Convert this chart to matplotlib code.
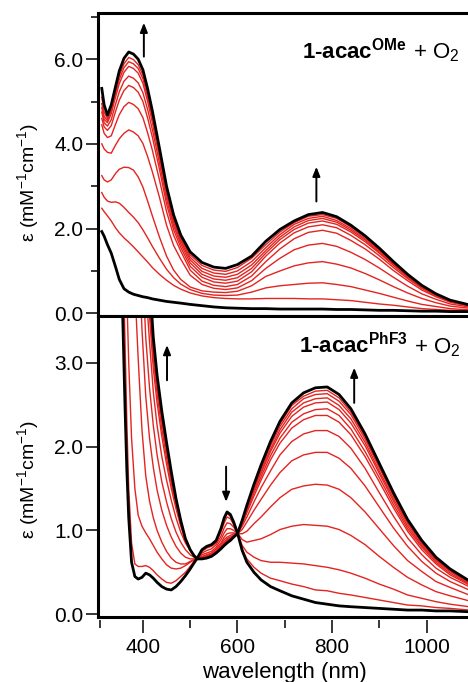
import matplotlib
matplotlib.use("Agg")
import matplotlib.pyplot as plt
from matplotlib.ticker import FixedLocator, FormatStrFormatter

plt.rcParams['font.family'] = ['Liberation Sans', 'DejaVu Sans']
plt.rcParams['mathtext.fontset'] = 'custom'
plt.rcParams['mathtext.rm'] = 'Liberation Sans'
plt.rcParams['mathtext.it'] = 'Liberation Sans:italic'
plt.rcParams['mathtext.bf'] = 'Liberation Sans:bold'

# ---------------- data: top panel (1-acac^OMe + O2) ----------------
wl_top = [313, 318, 325, 333, 342, 350, 360, 370, 380, 390, 400, 410, 420, 435, 450, 465, 480, 500, 525, 550,
          575, 600, 630, 660, 690, 720, 750, 780, 810, 840, 870, 900, 930, 960, 990, 1020, 1050, 1090]

top_initial = [1.93, 1.82, 1.62, 1.42, 1.10, 0.80, 0.58, 0.50, 0.45, 0.42, 0.39, 0.37, 0.34, 0.31, 0.28, 0.26, 0.24, 0.21, 0.18, 0.15,
               0.13, 0.12, 0.11, 0.11, 0.10, 0.10, 0.10, 0.10, 0.09, 0.09, 0.08, 0.07, 0.07, 0.06, 0.05, 0.05, 0.04, 0.04]
top_final = [5.31, 4.92, 4.68, 4.92, 5.35, 5.72, 6.02, 6.17, 6.12, 6.00, 5.75, 5.30, 4.78, 3.90, 3.00, 2.32, 1.85, 1.45, 1.20, 1.09,
             1.06, 1.15, 1.35, 1.70, 1.98, 2.18, 2.33, 2.38, 2.28, 2.08, 1.83, 1.54, 1.22, 0.92, 0.66, 0.46, 0.31, 0.20]

top_r1 = [5.10, 4.75, 4.60, 4.84, 5.25, 5.61, 5.89, 6.04, 5.99, 5.87, 5.63, 5.19, 4.68, 3.82, 2.92, 2.25, 1.79, 1.38, 1.13, 1.02,
          0.99, 1.08, 1.30, 1.62, 1.92, 2.14, 2.29, 2.33, 2.24, 2.04, 1.80, 1.51, 1.20, 0.90, 0.65, 0.45, 0.30, 0.20]
top_r2 = [4.95, 4.65, 4.55, 4.78, 5.18, 5.52, 5.80, 5.94, 5.89, 5.78, 5.54, 5.10, 4.60, 3.76, 2.87, 2.20, 1.75, 1.32, 1.06, 0.95,
          0.92, 1.00, 1.22, 1.55, 1.86, 2.10, 2.24, 2.29, 2.19, 2.00, 1.76, 1.48, 1.17, 0.89, 0.64, 0.44, 0.30, 0.19]
top_r3 = [4.85, 4.58, 4.50, 4.71, 5.10, 5.42, 5.69, 5.83, 5.78, 5.67, 5.43, 5.00, 4.51, 3.68, 2.80, 2.14, 1.70, 1.26, 0.99, 0.88,
          0.85, 0.92, 1.14, 1.48, 1.80, 2.04, 2.19, 2.24, 2.15, 1.96, 1.73, 1.45, 1.15, 0.87, 0.62, 0.44, 0.29, 0.19]
top_r4 = [4.75, 4.50, 4.42, 4.57, 4.93, 5.23, 5.48, 5.60, 5.55, 5.44, 5.21, 4.81, 4.34, 3.55, 2.70, 2.06, 1.64, 1.19, 0.92, 0.81,
          0.78, 0.84, 1.06, 1.42, 1.74, 1.98, 2.13, 2.18, 2.10, 1.92, 1.69, 1.42, 1.13, 0.85, 0.61, 0.43, 0.29, 0.19]
top_r5 = [4.60, 4.40, 4.32, 4.43, 4.76, 5.03, 5.26, 5.38, 5.33, 5.22, 5.00, 4.61, 4.16, 3.40, 2.58, 1.97, 1.56, 1.11, 0.85, 0.74,
          0.71, 0.76, 0.98, 1.35, 1.66, 1.90, 2.04, 2.09, 2.02, 1.84, 1.62, 1.36, 1.08, 0.82, 0.59, 0.41, 0.28, 0.18]
top_r6 = [4.45, 4.25, 4.15, 4.19, 4.46, 4.69, 4.88, 4.98, 4.93, 4.83, 4.62, 4.26, 3.85, 3.15, 2.40, 1.84, 1.47, 1.02, 0.76, 0.66,
          0.63, 0.68, 0.88, 1.22, 1.52, 1.76, 1.91, 1.96, 1.89, 1.72, 1.52, 1.28, 1.01, 0.77, 0.55, 0.39, 0.26, 0.17]
top_r7 = [4.00, 3.88, 3.80, 3.78, 3.97, 4.12, 4.25, 4.33, 4.28, 4.19, 4.01, 3.70, 3.34, 2.74, 2.08, 1.60, 1.28, 0.90, 0.68, 0.59,
          0.56, 0.60, 0.77, 1.06, 1.30, 1.50, 1.61, 1.65, 1.58, 1.44, 1.27, 1.07, 0.85, 0.64, 0.46, 0.33, 0.22, 0.15]
top_r8 = [3.25, 3.15, 3.10, 3.15, 3.30, 3.40, 3.45, 3.44, 3.38, 3.22, 2.98, 2.65, 2.30, 1.80, 1.35, 1.02, 0.80, 0.62, 0.53, 0.50,
          0.49, 0.52, 0.65, 0.87, 1.00, 1.12, 1.19, 1.22, 1.16, 1.07, 0.94, 0.79, 0.63, 0.48, 0.35, 0.25, 0.17, 0.12]
top_r9 = [2.85, 2.74, 2.65, 2.62, 2.63, 2.60, 2.50, 2.38, 2.27, 2.14, 1.97, 1.78, 1.58, 1.30, 1.04, 0.84, 0.69, 0.56, 0.47, 0.43,
          0.42, 0.43, 0.50, 0.60, 0.65, 0.68, 0.71, 0.72, 0.68, 0.63, 0.55, 0.47, 0.38, 0.29, 0.21, 0.16, 0.11, 0.08]
top_r10 = [2.48, 2.40, 2.30, 2.18, 2.02, 1.90, 1.78, 1.68, 1.57, 1.45, 1.33, 1.21, 1.08, 0.92, 0.78, 0.66, 0.57, 0.48, 0.41, 0.37,
           0.35, 0.34, 0.34, 0.35, 0.35, 0.35, 0.34, 0.34, 0.32, 0.30, 0.26, 0.22, 0.19, 0.15, 0.11, 0.09, 0.07, 0.06]
top_reds = [top_r1, top_r2, top_r3, top_r4, top_r5, top_r6, top_r7, top_r8, top_r9, top_r10]

# ---------------- data: bottom panel (1-acac^PhF3 + O2) ----------------
wl_bot = [352, 358, 362, 366, 370, 376, 383, 390, 398, 406, 414, 422, 430, 440, 450, 460, 470, 480, 490, 500,
          508, 515, 525, 535, 545, 555, 565, 572, 578, 585, 592, 600, 610, 620, 635, 650, 670, 690, 715, 740,
          765, 790, 815, 840, 870, 900, 930, 960, 990, 1020, 1050, 1090]

bot_initial = [4.6, 3.4, 2.5, 1.72, 1.15, 0.62, 0.45, 0.42, 0.44, 0.49, 0.47, 0.43, 0.38, 0.33, 0.30, 0.29, 0.33, 0.39, 0.46, 0.54,
               0.61, 0.67, 0.77, 0.81, 0.83, 0.88, 1.02, 1.15, 1.22, 1.19, 1.10, 0.97, 0.76, 0.62, 0.50, 0.41, 0.33, 0.28, 0.22, 0.18,
               0.14, 0.12, 0.10, 0.09, 0.08, 0.07, 0.06, 0.05, 0.05, 0.04, 0.04, 0.03]
bot_final = [14.5, 14.0, 13.5, 13.0, 12.5, 11.0, 9.6, 7.8, 5.9, 4.65, 4.0, 3.3, 2.85, 2.42, 2.05, 1.70, 1.38, 1.12, 0.90, 0.77,
             0.70, 0.66, 0.66, 0.67, 0.69, 0.73, 0.78, 0.82, 0.85, 0.88, 0.92, 0.96, 1.12, 1.30, 1.55, 1.78, 2.06, 2.30, 2.52, 2.64,
             2.70, 2.71, 2.62, 2.45, 2.15, 1.80, 1.45, 1.13, 0.88, 0.68, 0.54, 0.40]

bot_q1 = [14.4, 13.9, 13.3, 12.8, 12.3, 10.8, 9.4, 7.6, 5.75, 4.55, 3.96, 3.28, 2.83, 2.40, 2.04, 1.69, 1.38, 1.12, 0.90, 0.77,
          0.70, 0.66, 0.66, 0.67, 0.69, 0.73, 0.78, 0.82, 0.86, 0.88, 0.92, 0.96, 1.11, 1.29, 1.53, 1.76, 2.03, 2.27, 2.49, 2.60,
          2.66, 2.67, 2.58, 2.41, 2.12, 1.77, 1.43, 1.11, 0.87, 0.67, 0.53, 0.39]
bot_q2 = [14.2, 13.7, 13.1, 12.6, 12.1, 10.6, 9.2, 7.4, 5.6, 4.45, 3.9, 3.24, 2.80, 2.38, 2.02, 1.68, 1.37, 1.11, 0.90, 0.77,
          0.70, 0.66, 0.66, 0.67, 0.69, 0.73, 0.79, 0.83, 0.86, 0.89, 0.93, 0.96, 1.11, 1.28, 1.52, 1.74, 2.01, 2.24, 2.45, 2.57,
          2.62, 2.63, 2.54, 2.38, 2.09, 1.75, 1.41, 1.10, 0.86, 0.66, 0.53, 0.39]
bot_q3 = [14.0, 13.4, 12.8, 12.3, 11.8, 10.4, 9.0, 7.2, 5.45, 4.35, 3.84, 3.19, 2.76, 2.34, 1.98, 1.65, 1.35, 1.10, 0.90, 0.77,
          0.70, 0.66, 0.67, 0.68, 0.70, 0.74, 0.79, 0.84, 0.87, 0.90, 0.93, 0.96, 1.10, 1.27, 1.50, 1.71, 1.97, 2.20, 2.41, 2.52,
          2.57, 2.58, 2.49, 2.33, 2.05, 1.71, 1.38, 1.08, 0.84, 0.65, 0.52, 0.38]
bot_q4 = [13.8, 13.2, 12.6, 12.0, 11.5, 10.1, 8.7, 7.0, 5.3, 4.25, 3.77, 3.13, 2.70, 2.29, 1.94, 1.61, 1.33, 1.09, 0.90, 0.77,
          0.70, 0.66, 0.67, 0.68, 0.70, 0.74, 0.80, 0.84, 0.88, 0.90, 0.93, 0.96, 1.09, 1.25, 1.48, 1.68, 1.94, 2.16, 2.36, 2.47,
          2.52, 2.53, 2.44, 2.28, 2.01, 1.68, 1.35, 1.05, 0.82, 0.64, 0.51, 0.37]
bot_q5 = [13.5, 12.9, 12.3, 11.7, 11.2, 9.8, 8.4, 6.8, 5.1, 4.1, 3.68, 3.06, 2.63, 2.21, 1.87, 1.56, 1.30, 1.07, 0.89, 0.77,
          0.70, 0.66, 0.67, 0.68, 0.70, 0.75, 0.80, 0.85, 0.89, 0.91, 0.94, 0.96, 1.08, 1.23, 1.45, 1.64, 1.89, 2.10, 2.29, 2.39,
          2.44, 2.45, 2.37, 2.21, 1.94, 1.63, 1.31, 1.02, 0.80, 0.62, 0.49, 0.36]
bot_q6 = [13.2, 12.6, 12.0, 11.4, 10.8, 9.5, 8.1, 6.6, 4.95, 3.98, 3.55, 2.93, 2.52, 2.12, 1.79, 1.50, 1.26, 1.05, 0.88, 0.77,
          0.70, 0.66, 0.67, 0.69, 0.71, 0.75, 0.81, 0.86, 0.90, 0.92, 0.94, 0.96, 1.07, 1.21, 1.41, 1.60, 1.84, 2.04, 2.22, 2.32,
          2.37, 2.37, 2.29, 2.14, 1.88, 1.58, 1.27, 0.99, 0.77, 0.60, 0.47, 0.35]
bot_q7 = [12.5, 12.0, 11.4, 10.8, 10.2, 8.9, 7.6, 6.3, 4.85, 3.9, 3.25, 2.65, 2.25, 1.88, 1.60, 1.36, 1.15, 0.98, 0.85, 0.76,
          0.69, 0.66, 0.68, 0.70, 0.72, 0.76, 0.83, 0.89, 0.92, 0.94, 0.96, 0.96, 1.05, 1.16, 1.34, 1.51, 1.71, 1.90, 2.06, 2.15,
          2.19, 2.19, 2.12, 1.98, 1.74, 1.45, 1.17, 0.91, 0.71, 0.55, 0.44, 0.33]
bot_q8 = [12.0, 11.4, 10.8, 10.2, 9.6, 8.3, 7.0, 5.5, 4.3, 3.3, 2.7, 2.25, 1.90, 1.58, 1.34, 1.14, 0.98, 0.86, 0.77, 0.71,
          0.68, 0.66, 0.69, 0.71, 0.73, 0.78, 0.85, 0.92, 0.96, 0.97, 0.97, 0.96, 1.01, 1.10, 1.24, 1.37, 1.54, 1.69, 1.83, 1.90,
          1.93, 1.93, 1.86, 1.74, 1.53, 1.28, 1.03, 0.81, 0.63, 0.49, 0.39, 0.29]
bot_q9 = [10.0, 9.5, 9.0, 8.5, 8.0, 7.0, 5.8, 4.5, 3.4, 2.6, 2.1, 1.75, 1.48, 1.24, 1.06, 0.92, 0.81, 0.73, 0.68, 0.66,
          0.66, 0.66, 0.71, 0.73, 0.75, 0.80, 0.89, 0.97, 1.02, 1.02, 1.00, 0.96, 0.96, 0.99, 1.08, 1.16, 1.28, 1.39, 1.49, 1.53,
          1.55, 1.54, 1.49, 1.39, 1.22, 1.02, 0.82, 0.64, 0.51, 0.39, 0.32, 0.23]
bot_q10 = [9.0, 8.0, 7.2, 6.5, 5.7, 4.7, 3.9, 3.05, 2.2, 1.65, 1.35, 1.15, 1.00, 0.86, 0.75, 0.67, 0.62, 0.60, 0.60, 0.63,
           0.65, 0.67, 0.73, 0.76, 0.78, 0.83, 0.93, 1.03, 1.09, 1.08, 1.04, 0.97, 0.89, 0.86, 0.88, 0.90, 0.95, 1.01, 1.05, 1.07,
           1.06, 1.05, 1.01, 0.94, 0.83, 0.69, 0.56, 0.44, 0.35, 0.27, 0.22, 0.16]
bot_q11 = [7.0, 5.6, 4.6, 3.8, 3.0, 2.1, 1.5, 1.18, 1.05, 0.97, 0.90, 0.82, 0.74, 0.66, 0.59, 0.55, 0.54, 0.55, 0.58, 0.62,
           0.65, 0.67, 0.75, 0.79, 0.81, 0.85, 0.98, 1.09, 1.16, 1.14, 1.07, 0.97, 0.82, 0.74, 0.68, 0.64, 0.62, 0.62, 0.61, 0.60,
           0.58, 0.56, 0.53, 0.49, 0.43, 0.36, 0.30, 0.23, 0.19, 0.15, 0.12, 0.09]
bot_q12 = [5.5, 4.2, 3.3, 2.3, 1.5, 0.85, 0.60, 0.57, 0.57, 0.58, 0.56, 0.52, 0.47, 0.42, 0.38, 0.37, 0.40, 0.45, 0.50, 0.57,
           0.63, 0.67, 0.76, 0.80, 0.82, 0.87, 1.01, 1.13, 1.20, 1.17, 1.09, 0.97, 0.78, 0.66, 0.56, 0.49, 0.43, 0.40, 0.36, 0.33,
           0.29, 0.28, 0.25, 0.23, 0.20, 0.17, 0.14, 0.11, 0.10, 0.08, 0.07, 0.05]
bot_reds = [bot_q1, bot_q2, bot_q3, bot_q4, bot_q5, bot_q6, bot_q7, bot_q8, bot_q9, bot_q10, bot_q11, bot_q12]

top_yticks = [0, 2, 4, 6]
top_yminor = [1, 3, 5, 7]
bot_yticks = [0, 1, 2, 3]
xticks = [400, 600, 800, 1000]
xminor = [310, 500, 700, 900]

# ---------------- figure ----------------
W, H = 468, 682
fig = plt.figure(figsize=(W / 100, H / 100), dpi=100)


def px_rect(left, top, right, bottom):
    return [left / W, 1 - bottom / H, (right - left) / W, (bottom - top) / H]


ax1 = fig.add_axes(px_rect(98, 13, 470, 316))
ax2 = fig.add_axes(px_rect(98, 316, 470, 616.7))

RED = '#e32420'
for vals in top_reds:
    ax1.plot(wl_top, vals, color=RED, lw=1.0)
ax1.plot(wl_top, top_initial, color='k', lw=2.0)
ax1.plot(wl_top, top_final, color='k', lw=2.0)

for vals in bot_reds:
    ax2.plot(wl_bot, vals, color=RED, lw=1.0)
ax2.plot(wl_bot, bot_initial, color='k', lw=2.0)
ax2.plot(wl_bot, bot_final, color='k', lw=2.0)

ax1.set_xlim(305, 1092)
ax2.set_xlim(305, 1092)
ax1.set_ylim(-0.064, 7.09)
ax2.set_ylim(-0.029, 3.556)

TICK_FS = 15
for ax in (ax1, ax2):
    for s in ax.spines.values():
        s.set_linewidth(2.2)
    ax.yaxis.set_major_formatter(FormatStrFormatter('%.1f'))
    ax.tick_params(axis='y', which='major', direction='out', length=8.5, width=1.1,
                   labelsize=TICK_FS, pad=2)
    ax.tick_params(axis='y', which='minor', direction='out', length=5, width=1.1)

ax1.yaxis.set_major_locator(FixedLocator(top_yticks))
ax1.yaxis.set_minor_locator(FixedLocator(top_yminor))
ax1.tick_params(axis='x', which='both', bottom=False, labelbottom=False)

ax2.yaxis.set_major_locator(FixedLocator(bot_yticks))
ax2.xaxis.set_major_locator(FixedLocator(xticks))
ax2.xaxis.set_minor_locator(FixedLocator(xminor))
ax2.spines['bottom'].set_position(('outward', 2.5))
ax2.spines['bottom'].set_visible(False)
ax2.plot([0, 1], [0, 0], transform=ax2.transAxes, color='k', lw=2.2, clip_on=False,
         solid_capstyle='projecting')
ax2.tick_params(axis='x', which='major', direction='out', length=9.5, width=1.1, labelsize=TICK_FS, pad=3)
ax2.tick_params(axis='x', which='minor', direction='out', length=6, width=1.1)

# arrows
arrow_kw = dict(arrowstyle='-|>,head_length=0.55,head_width=0.22', lw=1.4, color='k',
                shrinkA=0, shrinkB=0)
ax1.annotate('', xy=(402, 6.86), xytext=(402, 6.06), arrowprops=arrow_kw)
ax1.annotate('', xy=(767, 3.46), xytext=(767, 2.64), arrowprops=arrow_kw)
ax2.annotate('', xy=(451, 3.21), xytext=(451, 2.79), arrowprops=arrow_kw)
ax2.annotate('', xy=(847, 2.94), xytext=(847, 2.52), arrowprops=arrow_kw)
ax2.annotate('', xy=(576, 1.34), xytext=(576, 1.76), arrowprops=arrow_kw)

# panel labels (bold compound name + regular "+ O2")
fig.canvas.draw()
renderer = fig.canvas.get_renderer()


def panel_label(x_px, y_px, sup):
    t1 = fig.text(x_px / W, 1 - y_px / H, r'1-acac$^{\mathbf{%s}}$' % sup, fontsize=16,
                  fontweight='bold', ha='left', va='baseline')
    bb = t1.get_window_extent(renderer=renderer)
    fig.text(bb.x1 / W, 1 - y_px / H, r' + O$_2$', fontsize=16, ha='left', va='baseline')


panel_label(302, 58, 'OMe')
panel_label(299, 353, 'PhF3')

# axis labels
ylab = r'ε (mM$^{-1}$cm$^{-1}$)'
fig.text(28 / W, 1 - 183 / H, ylab, rotation=90, ha='center', va='center', fontsize=14)
fig.text(28 / W, 1 - 480 / H, ylab, rotation=90, ha='center', va='center', fontsize=14)
fig.text(284 / W, 1 - 678 / H, 'wavelength (nm)', ha='center', va='baseline', fontsize=16)

fig.savefig('out.png', dpi=100)
